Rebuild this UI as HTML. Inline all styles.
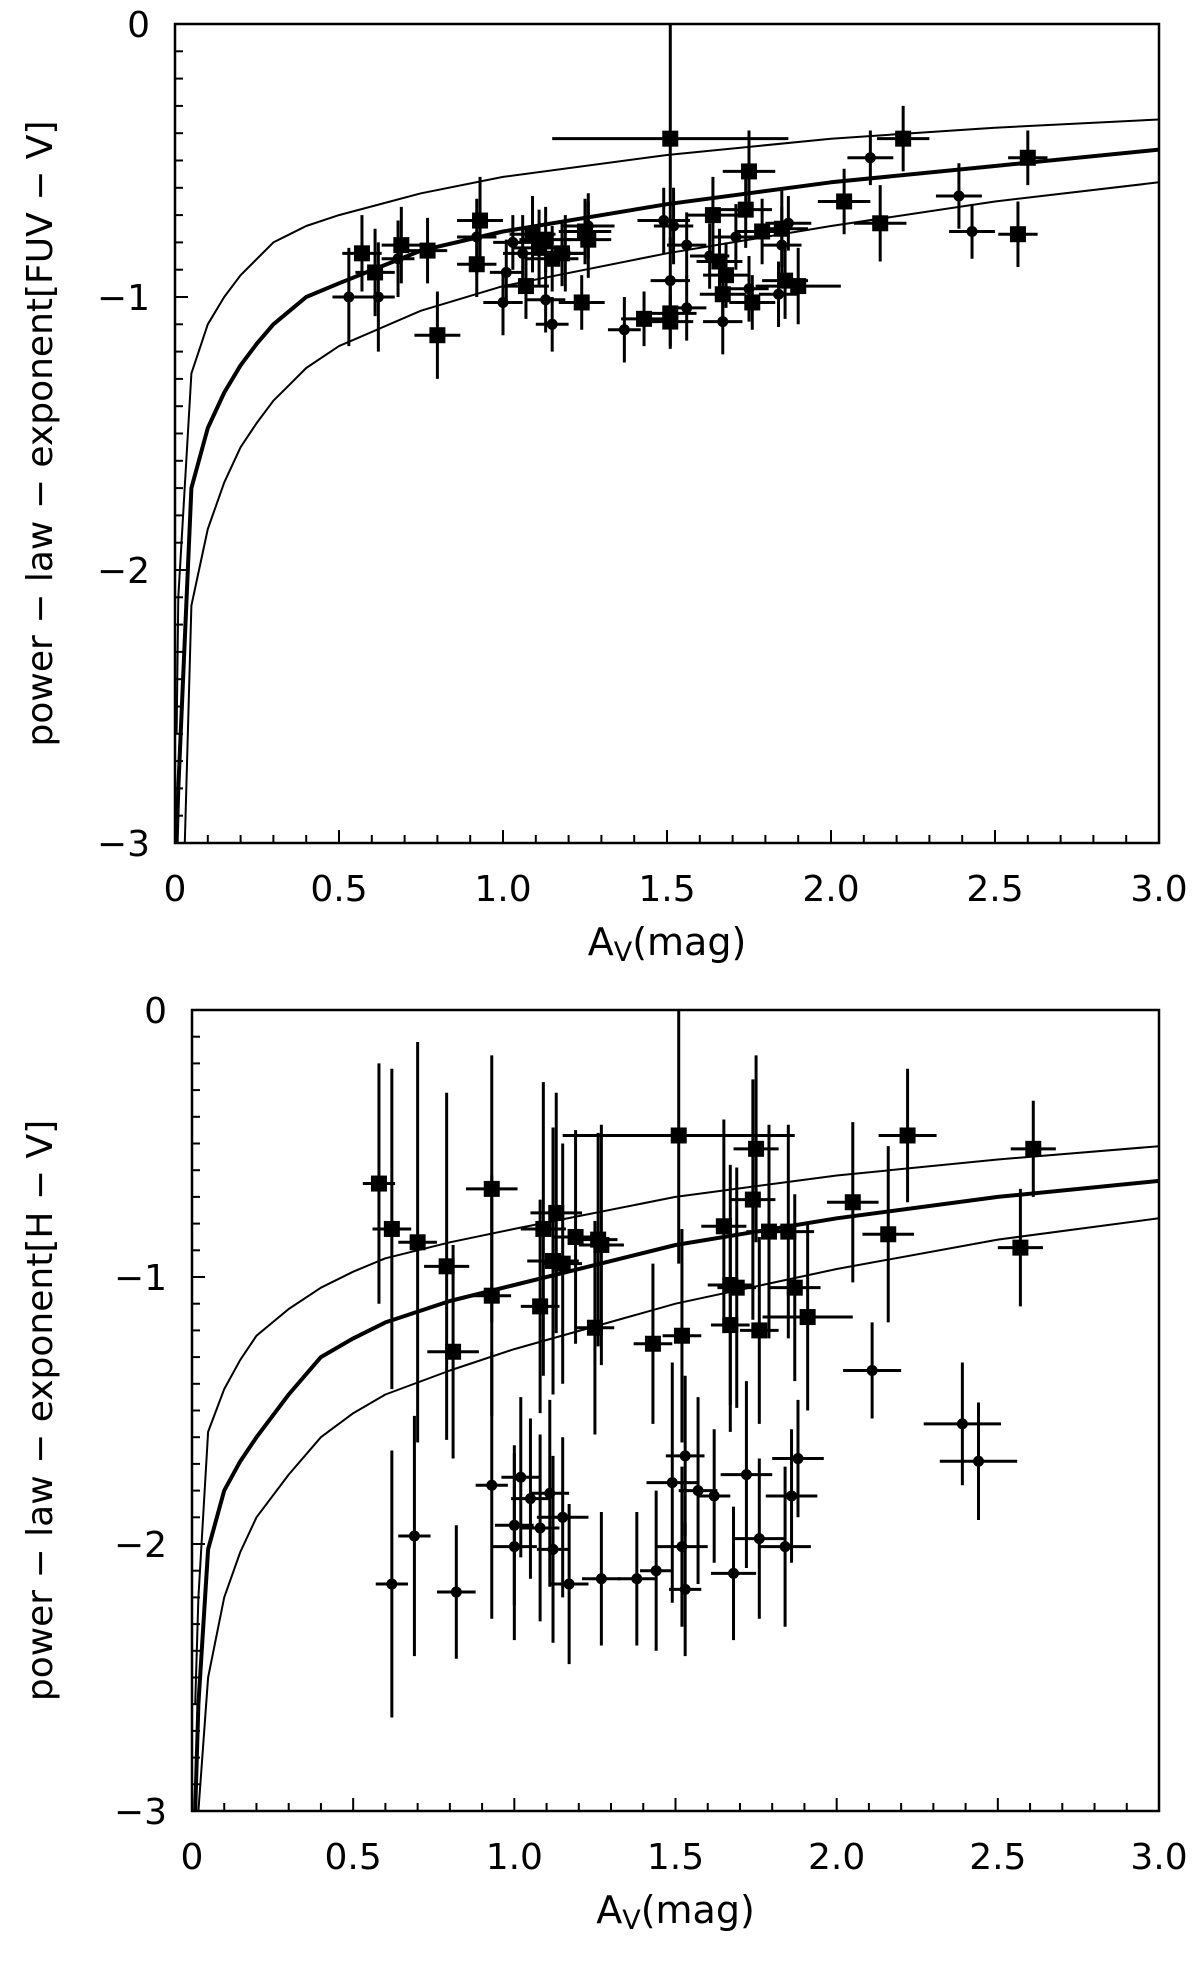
<!DOCTYPE html>
<html><head><meta charset="utf-8"><style>
html,body{margin:0;padding:0;background:#fff;}
svg{display:block;font-family:"DejaVu Sans","Liberation Sans",sans-serif;}
</style></head><body>
<svg id="chart" width="1200" height="1961" viewBox="0 0 1200 1961" xmlns="http://www.w3.org/2000/svg"></svg>
<script>
// ---------- top panel data ----------
const topSqX=[0.57,0.61,0.69,0.77,0.80,0.93,0.92,1.07,1.09,1.11,1.13,1.15,1.18,1.24,1.25,1.26,1.51,1.51,1.51,1.43,1.64,1.66,1.67,1.68,1.75,1.74,1.76,1.79,1.85,1.86,1.90,2.04,2.15,2.22,2.57,2.60];
const topSqY=[-0.84,-0.91,-0.81,-0.83,-1.14,-0.72,-0.88,-0.96,-0.77,-0.82,-0.79,-0.86,-0.84,-1.02,-0.76,-0.79,-0.42,-1.06,-1.09,-1.08,-0.70,-0.87,-0.99,-0.92,-0.54,-0.68,-1.02,-0.76,-0.75,-0.94,-0.96,-0.65,-0.73,-0.42,-0.77,-0.49];
const topSqXe=[0.06,0.06,0.06,0.06,0.07,0.07,0.06,0.07,0.07,0.08,0.08,0.08,0.07,0.07,0.08,0.07,0.36,0.08,0.07,0.07,0.08,0.07,0.07,0.07,0.08,0.08,0.07,0.08,0.08,0.07,0.13,0.08,0.08,0.08,0.06,0.06];
const topSqYe=[0.14,0.16,0.14,0.12,0.16,0.16,0.12,0.12,0.14,0.14,0.12,0.12,0.12,0.10,0.12,0.14,0.42,0.12,0.10,0.10,0.14,0.12,0.12,0.12,0.15,0.14,0.10,0.12,0.14,0.14,0.14,0.12,0.14,0.12,0.12,0.10];
const topDotX=[0.53,0.62,0.68,0.92,1.00,1.01,1.03,1.06,1.13,1.15,1.19,1.26,1.37,1.49,1.51,1.52,1.56,1.56,1.63,1.67,1.71,1.75,1.84,1.85,1.87,2.12,2.39,2.43];
const topDotY=[-1.00,-1.00,-0.86,-0.78,-1.02,-0.91,-0.80,-0.84,-1.01,-1.10,-0.84,-0.74,-1.12,-0.72,-0.94,-0.74,-1.04,-0.81,-0.85,-1.09,-0.78,-0.97,-0.99,-0.81,-0.73,-0.49,-0.63,-0.76];
const topDotXe=[0.05,0.05,0.05,0.06,0.06,0.05,0.06,0.06,0.06,0.05,0.06,0.08,0.05,0.08,0.06,0.06,0.06,0.06,0.06,0.06,0.07,0.06,0.06,0.06,0.07,0.07,0.07,0.07];
const topDotYe=[0.18,0.20,0.14,0.14,0.12,0.12,0.10,0.14,0.12,0.10,0.14,0.12,0.12,0.12,0.16,0.14,0.12,0.12,0.12,0.12,0.12,0.12,0.12,0.14,0.10,0.10,0.12,0.10];
const topCurveX=[0.005,0.01,0.05,0.1,0.15,0.2,0.25,0.3,0.35,0.4,0.5,0.75,1.0,1.5,2.0,2.5,3.0];
const topMidY=[-3.0,-2.8,-1.70,-1.48,-1.35,-1.25,-1.17,-1.10,-1.05,-1.00,-0.95,-0.83,-0.76,-0.66,-0.58,-0.52,-0.46];
const topUpY=[-2.6,-2.1,-1.28,-1.10,-1.00,-0.92,-0.86,-0.80,-0.77,-0.74,-0.70,-0.62,-0.56,-0.48,-0.42,-0.38,-0.35];
const topLoX=[0.03,0.05,0.1,0.15,0.2,0.25,0.3,0.35,0.4,0.5,0.75,1.0,1.5,2.0,2.5,3.0];
const topLoY=[-3.0,-2.13,-1.85,-1.68,-1.55,-1.46,-1.38,-1.32,-1.26,-1.18,-1.05,-0.96,-0.84,-0.74,-0.65,-0.58];
// ---------- bottom panel data ----------
const botSqX=[0.58,0.62,0.70,0.79,0.81,0.93,0.93,1.08,1.09,1.12,1.13,1.15,1.19,1.25,1.26,1.27,1.43,1.51,1.52,1.65,1.67,1.67,1.69,1.75,1.74,1.76,1.79,1.85,1.87,1.91,2.05,2.16,2.22,2.57,2.61];
const botSqY=[-0.65,-0.82,-0.87,-0.96,-1.28,-0.67,-1.07,-1.11,-0.82,-0.94,-0.76,-0.95,-0.85,-1.19,-0.86,-0.88,-1.25,-0.47,-1.22,-0.81,-1.03,-1.18,-1.04,-0.52,-0.71,-1.20,-0.83,-0.83,-1.04,-1.15,-0.72,-0.84,-0.47,-0.89,-0.52];
const botSqXe=[0.05,0.06,0.06,0.07,0.08,0.08,0.06,0.06,0.07,0.08,0.08,0.06,0.07,0.06,0.06,0.07,0.06,0.36,0.06,0.07,0.07,0.06,0.06,0.07,0.07,0.06,0.07,0.08,0.08,0.14,0.08,0.08,0.09,0.07,0.07];
const botSqYe=[0.45,0.60,0.75,0.65,0.40,0.50,0.45,0.40,0.55,0.50,0.45,0.45,0.40,0.40,0.40,0.45,0.30,0.48,0.40,0.40,0.45,0.40,0.45,0.35,0.45,0.35,0.40,0.40,0.35,0.35,0.30,0.33,0.25,0.22,0.18];
const botDotX=[0.62,0.69,0.82,0.93,1.00,1.00,1.02,1.05,1.08,1.11,1.12,1.15,1.17,1.27,1.38,1.44,1.49,1.52,1.53,1.53,1.57,1.62,1.68,1.72,1.76,1.84,1.86,1.88,2.11,2.39,2.44];
const botDotY=[-2.15,-1.97,-2.18,-1.78,-1.93,-2.01,-1.75,-1.83,-1.94,-1.81,-2.02,-1.90,-2.15,-2.13,-2.13,-2.10,-1.77,-2.01,-1.67,-2.17,-1.80,-1.82,-2.11,-1.74,-1.98,-2.01,-1.82,-1.68,-1.35,-1.55,-1.69];
const botDotXe=[0.05,0.05,0.06,0.05,0.06,0.07,0.06,0.06,0.06,0.06,0.05,0.08,0.06,0.06,0.06,0.05,0.08,0.08,0.06,0.05,0.06,0.05,0.07,0.08,0.08,0.08,0.08,0.08,0.09,0.12,0.12];
const botDotYe=[0.50,0.45,0.25,0.50,0.30,0.35,0.30,0.30,0.35,0.35,0.35,0.30,0.30,0.25,0.25,0.30,0.45,0.30,0.30,0.25,0.35,0.25,0.25,0.35,0.30,0.30,0.25,0.22,0.18,0.23,0.22];
const botCurveX=[0.01,0.02,0.05,0.1,0.15,0.2,0.3,0.4,0.5,0.6,0.8,1.0,1.5,2.0,2.5,3.0];
const botMidY=[-3.0,-2.6,-2.02,-1.80,-1.69,-1.60,-1.44,-1.30,-1.23,-1.17,-1.09,-1.03,-0.88,-0.78,-0.70,-0.64];
const botUpY=[-2.6,-2.2,-1.58,-1.42,-1.31,-1.22,-1.12,-1.04,-0.98,-0.93,-0.87,-0.82,-0.70,-0.62,-0.56,-0.51];
const botLoX=[0.02,0.05,0.1,0.15,0.2,0.3,0.4,0.5,0.6,0.8,1.0,1.5,2.0,2.5,3.0];
const botLoY=[-3.0,-2.5,-2.2,-2.03,-1.90,-1.74,-1.60,-1.51,-1.44,-1.35,-1.27,-1.10,-0.97,-0.86,-0.78];
const xTicks=["0","0.5","1.0","1.5","2.0","2.5","3.0"];
const yTicks=["0","−1","−2","−3"];

const NS="http://www.w3.org/2000/svg";
const svg=document.getElementById('chart');
function mk(tag,attrs,parent){const e=document.createElementNS(NS,tag);for(const k in attrs)e.setAttribute(k,attrs[k]);(parent||svg).appendChild(e);return e;}

function panel(P){
  const g=mk('g',{});
  
  
  const sx=v=>P.L+(v/3)*(P.R-P.L);
  const sy=v=>P.T+(-v/3)*(P.B-P.T);
  const frame=mk('rect',{x:P.L,y:P.T,width:P.R-P.L,height:P.B-P.T,fill:'none',stroke:'#000','stroke-width':2.5},g);
  
  
  for(let i=0;i<=30;i++){const x=sx(i/10);const len=(i%5===0)?13:8;
    const t=mk('line',{x1:x,x2:x,y1:P.B,y2:P.B-len,stroke:'#000','stroke-width':2},g);
    
    }
  xTicks.forEach((s,i)=>{const t=mk('text',{x:sx(i*0.5),y:P.B+58,'text-anchor':'middle','font-size':36},g);t.textContent=s;
    
    });
  for(let i=0;i<=30;i++){const y=sy(-i/10);const len=(i%10===0)?13:8;
    const t=mk('line',{x1:P.L,x2:P.L+len,y1:y,y2:y,stroke:'#000','stroke-width':2},g);
    
    }
  yTicks.forEach((s,i)=>{const t=mk('text',{x:P.L-25,y:sy(-i)+13,'text-anchor':'end','font-size':36},g);t.textContent=s;
    
    });
  const xt=mk('text',{x:(P.L+P.R)/2,y:P.B+112,'text-anchor':'middle','font-size':38},g);
  xt.innerHTML='A<tspan font-size="27" dy="6">V</tspan><tspan dy="-6">(mag)</tspan>';
  
  
  const yt=mk('text',{x:0,y:0,'text-anchor':'middle','font-size':36,transform:`translate(${P.yTitleX},${(P.T+P.B)/2}) rotate(-90)`},g);
  yt.textContent=P.yTitle;
  
  
  const clip=mk('clipPath',{id:P.name+'-clip'},g);
  mk('rect',{x:P.L,y:P.T,width:P.R-P.L,height:P.B-P.T},clip);
  const cg=mk('g',{'clip-path':`url(#${P.name}-clip)`},g);
  function curve(xs,ys,w,name){let d='';xs.forEach((x,i)=>{d+=(i?'L':'M')+sx(x).toFixed(1)+','+sy(ys[i]).toFixed(1);});
    const p=mk('path',{d:d,fill:'none',stroke:'#000','stroke-width':w,'stroke-linejoin':'round'},cg);
    
    }
  curve(P.cx,P.up,2,'upper-model-curve');
  curve(P.cx,P.mid,4,'model-curve');
  curve(P.lx,P.lo,2,'lower-model-curve');
  function pts(X,Y,XE,YE,sq){X.forEach((x,i)=>{const y=Y[i];
    const e=mk('path',{d:`M${sx(x-XE[i])},${sy(y)}H${sx(x+XE[i])}M${sx(x)},${sy(y-YE[i])}V${sy(y+YE[i])}`,stroke:'#000','stroke-width':3,fill:'none'},cg);
    
    
    let m;
    if(sq){m=mk('rect',{x:sx(x)-8,y:sy(y)-8,width:16,height:16,fill:'#000'},cg);
      }
    else{m=mk('circle',{cx:sx(x),cy:sy(y),r:5.5,fill:'#000'},cg);
      }
    });}
  pts(P.sqX,P.sqY,P.sqXe,P.sqYe,true);
  pts(P.dX,P.dY,P.dXe,P.dYe,false);
}
panel({name:'top-panel',L:175,R:1159,T:24,B:843,yTitleX:52,yTitle:'power − law − exponent[FUV − V]',
  cx:topCurveX,mid:topMidY,up:topUpY,lx:topLoX,lo:topLoY,
  sqX:topSqX,sqY:topSqY,sqXe:topSqXe,sqYe:topSqYe,dX:topDotX,dY:topDotY,dXe:topDotXe,dYe:topDotYe});
panel({name:'bottom-panel',L:192,R:1159,T:1010,B:1811,yTitleX:52,yTitle:'power − law − exponent[H − V]',
  cx:botCurveX,mid:botMidY,up:botUpY,lx:botLoX,lo:botLoY,
  sqX:botSqX,sqY:botSqY,sqXe:botSqXe,sqYe:botSqYe,dX:botDotX,dY:botDotY,dXe:botDotXe,dYe:botDotYe});
</script>
</body></html>
